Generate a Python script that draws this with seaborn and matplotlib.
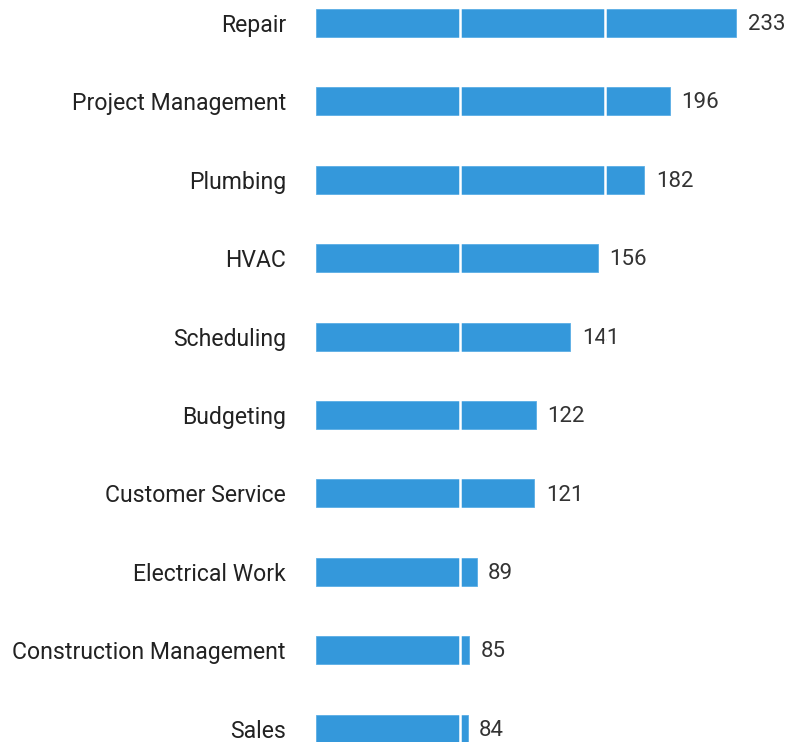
import matplotlib
matplotlib.use("Agg")
import matplotlib.pyplot as plt
import seaborn as sns

categories = ["Repair", "Project Management", "Plumbing", "HVAC", "Scheduling",
              "Budgeting", "Customer Service", "Electrical Work",
              "Construction Management", "Sales"]
counts = [233, 196, 182, 156, 141, 122, 121, 89, 85, 84]
grid_ticks = [80, 160]

sns.set_style("white")
plt.rcParams['font.family'] = ['Roboto', 'DejaVu Sans']

fig = plt.figure(figsize=(7.87, 7.42), dpi=100)
ax = fig.add_axes([0.4015, 0, 0.5985, 1])

sns.barplot(x=counts, y=categories, orient="h", color="#3498db", saturation=1,
            width=0.357, edgecolor="#5aaee6", linewidth=0.6, ax=ax)

# white gridlines drawn on top of the bars
for t in grid_ticks:
    ax.axvline(t, color="white", lw=1.8, zorder=5)

for i, v in enumerate(counts):
    ax.text(v + 6.3, i + 0.02, str(v), va="center", ha="left", fontsize=16, color="#333333")

ax.set_xlim(0, 261)
ax.set_ylim(9.17, -0.293)
ax.set_xticks([])
ax.tick_params(axis="y", length=0, pad=21.6, labelsize=16.6, labelcolor="#222222")
ax.set_xlabel("")
ax.set_ylabel("")
sns.despine(ax=ax, left=True, bottom=True)

plt.savefig("out.png", dpi=100)
